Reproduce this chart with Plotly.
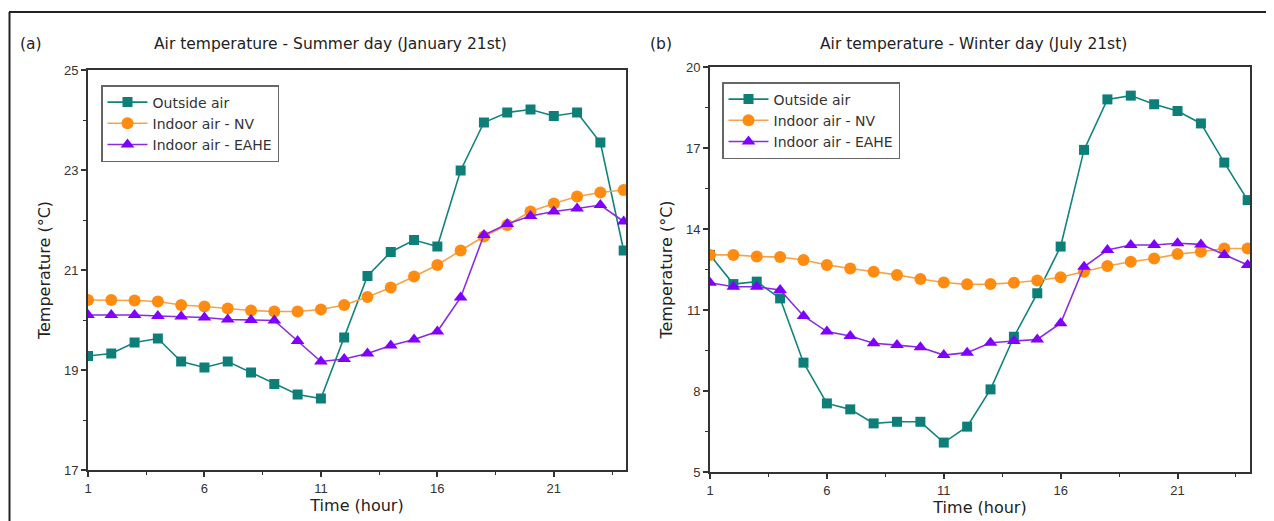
import plotly.graph_objects as go

hours = list(range(1, 25))

# Summer day (January 21st)
summer_outside = [19.28, 19.33, 19.55, 19.63, 19.17, 19.05, 19.17, 18.95, 18.72, 18.51, 18.43, 19.65,
                  20.88, 21.36, 21.6, 21.47, 22.99, 23.95, 24.15, 24.21, 24.08, 24.15, 23.55, 21.39]
summer_nv = [20.4, 20.4, 20.39, 20.37, 20.3, 20.27, 20.23, 20.19, 20.17, 20.17, 20.21, 20.3,
             20.46, 20.65, 20.87, 21.1, 21.39, 21.67, 21.9, 22.17, 22.33, 22.47, 22.55, 22.6]
summer_eahe = [20.1, 20.1, 20.1, 20.08, 20.07, 20.05, 20.01, 20.0, 19.99, 19.58, 19.17, 19.22,
               19.33, 19.49, 19.61, 19.77, 20.45, 21.7, 21.92, 22.08, 22.17, 22.23, 22.3, 21.97]

# Winter day (July 21st)
winter_outside = [13.04, 11.96, 12.05, 11.43, 9.05, 7.54, 7.32, 6.8, 6.86, 6.86, 6.09, 6.68,
                  8.06, 10.01, 11.62, 13.35, 16.93, 18.8, 18.94, 18.62, 18.37, 17.91, 16.46, 15.07]
winter_nv = [13.04, 13.04, 12.98, 12.96, 12.85, 12.67, 12.54, 12.42, 12.3, 12.15, 12.02, 11.95,
             11.96, 12.01, 12.09, 12.21, 12.42, 12.63, 12.79, 12.91, 13.07, 13.16, 13.28, 13.28]
winter_eahe = [12.01, 11.86, 11.86, 11.74, 10.78, 10.2, 10.04, 9.77, 9.7, 9.62, 9.33, 9.42,
               9.79, 9.85, 9.91, 10.51, 12.6, 13.22, 13.41, 13.41, 13.47, 13.43, 13.04, 12.67]

series_names = ["Outside air", "Indoor air - NV", "Indoor air - EAHE"]
line_colors = ["#12837c", "#f5a34a", "#8a2be2"]
marker_colors = ["#0e7f78", "#ff8c10", "#8000ff"]
symbols = ["square", "circle", "triangle-up"]
sizes = [10, 12, 12]

FONT = "Liberation Sans, Arial, sans-serif"
WIDE = "DejaVu Sans, Verdana, sans-serif"

# page body margin offset (screen px = figure px + OFF)
OFF = 8
W, H = 1274, 521
L, T = 88 - OFF, 67 - OFF
R = W - (1250 - OFF)
B = H - (472 - OFF)
pw, ph = W - L - R, H - T - B


def px(xs):
    return (xs - OFF - L) / pw


def py(ys):
    return (H - B - (ys - OFF)) / ph


fig = go.Figure()

panels = [
    ("x", "y", "legend", [summer_outside, summer_nv, summer_eahe]),
    ("x2", "y2", "legend2", [winter_outside, winter_nv, winter_eahe]),
]
for xa, ya, lg, data in panels:
    for i, vals in enumerate(data):
        fig.add_trace(go.Scatter(
            x=hours, y=vals, mode="lines+markers", name=series_names[i],
            xaxis=xa, yaxis=ya, legend=lg,
            line=dict(color=line_colors[i], width=1.6),
            marker=dict(symbol=symbols[i], size=sizes[i], color=marker_colors[i],
                        line=dict(width=0)),
        ))

axis_common = dict(
    showgrid=False, zeroline=False, showline=True, linecolor="#333", linewidth=2,
    mirror=True, ticks="outside", ticklen=5, tickwidth=1.5, tickcolor="#333",
    tickfont=dict(family=FONT, size=13, color="#333"),
)

xcommon = dict(axis_common, range=[1, 24.1], tick0=1, dtick=5,
               minor=dict(ticks="outside", ticklen=3, tickwidth=1.2, tickcolor="#333", dtick=2.5, tick0=1),
               title=dict(text="Time (hour)", font=dict(family=WIDE, size=16, color="#222"), standoff=3))
ytitle = dict(text="Temperature (°C)", font=dict(family=WIDE, size=16, color="#222"), standoff=9)

fig.update_layout(
    width=W, height=H,
    margin=dict(l=L, r=R, t=T, b=B),
    paper_bgcolor="white", plot_bgcolor="white",
    font=dict(family=FONT, color="#222"),
    xaxis=dict(xcommon, domain=[px(88), px(626)], anchor="y"),
    xaxis2=dict(xcommon, domain=[px(710), px(1250)], anchor="y2"),
    yaxis=dict(axis_common, range=[17, 25], tick0=17, dtick=2, domain=[py(470), py(70)], anchor="x",
               minor=dict(ticks="outside", ticklen=3, tickwidth=1.2, tickcolor="#333", dtick=1, tick0=17),
               title=ytitle),
    yaxis2=dict(axis_common, range=[5, 20], tick0=5, dtick=3, domain=[py(472), py(67)], anchor="x2",
                minor=dict(ticks="outside", ticklen=3, tickwidth=1.2, tickcolor="#333", dtick=1.5, tick0=5),
                title=ytitle),
    legend=dict(x=px(101), y=py(85), xanchor="left", yanchor="top", bgcolor="white",
                bordercolor="#666", borderwidth=1.5, font=dict(family=WIDE, size=14, color="#333"),
                tracegroupgap=0, itemwidth=40),
    legend2=dict(x=px(722), y=py(82), xanchor="left", yanchor="top", bgcolor="white",
                 bordercolor="#666", borderwidth=1.5, font=dict(family=WIDE, size=14, color="#333"),
                 tracegroupgap=0, itemwidth=40),
    showlegend=True,
)

annotations = [
    dict(text="(a)", x=31, y=44),
    dict(text="Air temperature - Summer day (January 21st)", x=330, y=44),
    dict(text="(b)", x=661, y=44),
    dict(text="Air temperature - Winter day (July 21st)", x=973, y=44),
]
for a in annotations:
    fig.add_annotation(text=a["text"], xref="paper", yref="paper",
                       x=px(a["x"]), y=py(a["y"]),
                       xanchor="center", yanchor="middle", showarrow=False,
                       font=dict(family=WIDE, size=15.5, color="#222"))

# outer frame (top and left border lines)
fig.add_shape(type="line", xref="paper", yref="paper",
              x0=px(9), x1=px(W + 20), y0=py(12), y1=py(12),
              line=dict(color="#222", width=2))
fig.add_shape(type="line", xref="paper", yref="paper",
              x0=px(9.5), x1=px(9.5), y0=py(12), y1=py(H + 20),
              line=dict(color="#222", width=2))

fig.write_html("out.html")
